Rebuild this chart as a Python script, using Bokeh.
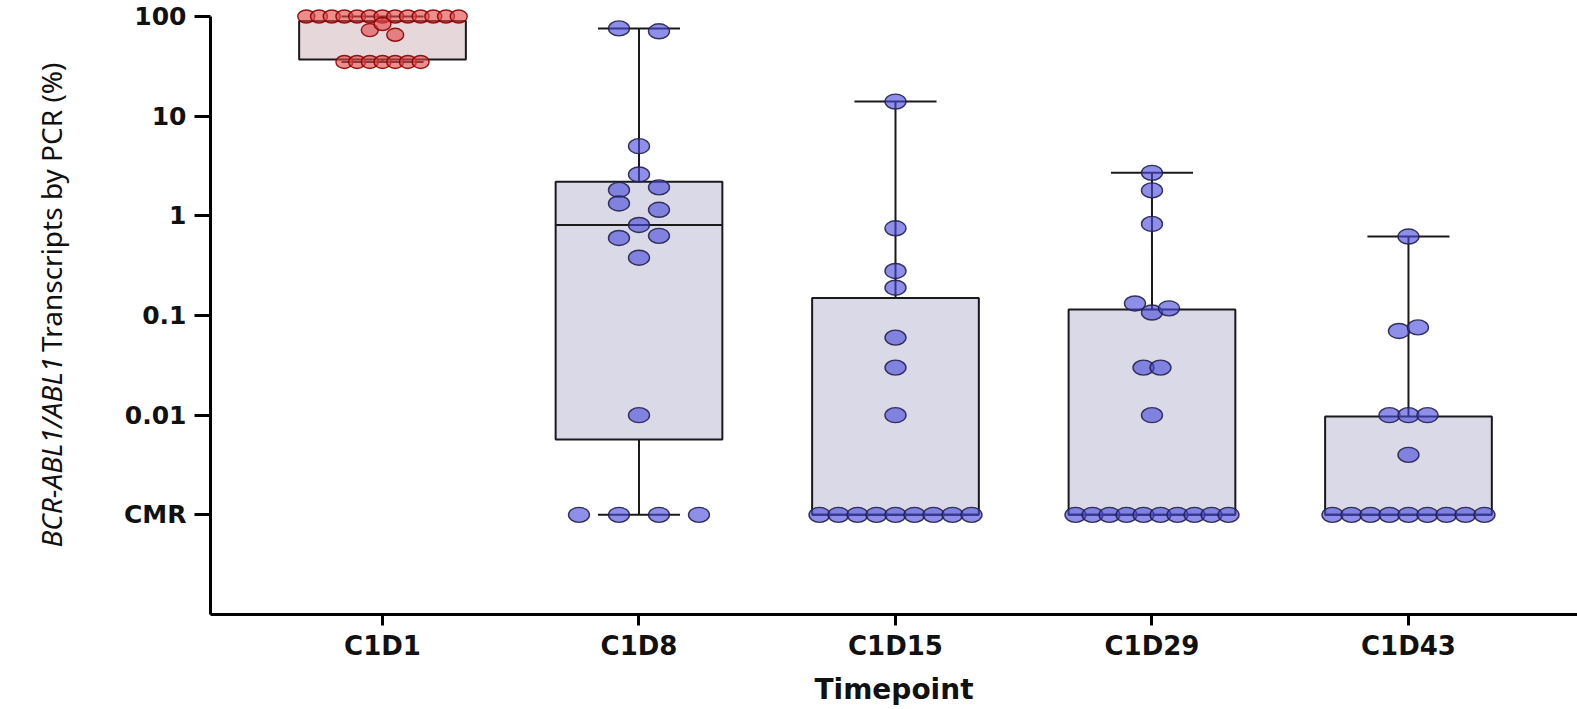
from math import log10, pi

from bokeh.core.properties import value
from bokeh.embed import file_html
from bokeh.layouts import row
from bokeh.models import ColumnDataSource, FixedTicker, Range1d
from bokeh.plotting import figure
from bokeh.resources import INLINE

# ---------------------------------------------------------------- data
CMR = 0.001  # complete molecular response, drawn on its own tick

timepoints = ["C1D1", "C1D8", "C1D15", "C1D29", "C1D43"]

c1d1_values = [100] * 13 + [73, 84, 65.5] + [35] * 7
c1d8_values = [76, 71, 5, 2.6, 1.82, 1.93, 1.33, 1.15, 0.81, 0.6, 0.63, 0.38, 0.01] + [CMR] * 4
c1d15_values = [14, 0.75, 0.28, 0.19, 0.06, 0.03, 0.01] + [CMR] * 9
c1d29_values = [2.7, 1.8, 0.83, 0.132, 0.107, 0.118, 0.03, 0.03, 0.01] + [CMR] * 10
c1d43_values = [0.62, 0.07, 0.076, 0.01, 0.01, 0.01, 0.004] + [CMR] * 9

# box-and-whisker summary for each timepoint
whisker_low = [35, CMR, CMR, CMR, CMR]
quartile_1 = [37, 0.0057, CMR, CMR, CMR]
median = [90, 0.81, CMR, CMR, CMR]
quartile_3 = [90, 2.2, 0.15, 0.115, 0.0097]
whisker_high = [100, 76, 14, 2.7, 0.62]

y_ticks = [CMR, 0.01, 0.1, 1, 10, 100]
y_tick_labels = ["CMR", "0.01", "0.1", "1", "10", "100"]

title_italic = "BCR-ABL1/ABL1"
title_plain = "Transcripts by PCR (%)"

# ---------------------------------------------------------------- geometry
W, H = 1577, 709
TITLE_W = 70                 # strip on the left that carries the y title
MAIN_W = W - TITLE_W
FRAME_LEFT, FRAME_BOTTOM = 210, 614
AXIS_TOP_PX = 16             # where the value axis ends (at 100)
HEADROOM_PX = 10             # room above the axis end so the top dots are not cut
FRAME_TOP = AXIS_TOP_PX - HEADROOM_PX
FRAME_W = W - FRAME_LEFT
X_LO, X_HI = -0.6706, 4.659
Y_LO, Y_AXIS_HI = 1e-4, 100
PX_PER_UNIT = FRAME_W / (X_HI - X_LO)
PX_PER_DECADE = (FRAME_BOTTOM - AXIS_TOP_PX) / (log10(Y_AXIS_HI) - log10(Y_LO))
Y_HI = Y_AXIS_HI * 10 ** (HEADROOM_PX / PX_PER_DECADE)

BOX_W = 0.65
CAP_W = 0.32


def swarm_offsets(vals, step_px, join_px):
    """Spread points that sit close together into centred horizontal rows."""
    order = sorted(range(len(vals)), key=lambda i: -vals[i])
    rows = []
    for i in order:
        if rows and (log10(vals[rows[-1][-1]]) - log10(vals[i])) * PX_PER_DECADE <= join_px:
            rows[-1].append(i)
        else:
            rows.append([i])
    offs = [0.0] * len(vals)
    for r in rows:
        r = sorted(r)
        n = len(r)
        for k, i in enumerate(r):
            offs[i] = (k - (n - 1) / 2) * step_px / PX_PER_UNIT
    return offs


groups = [c1d1_values, c1d8_values, c1d15_values, c1d29_values, c1d43_values]
steps = [12.7, 40, 19, 17, 19]
joins = [6.5, 10, 10, 10, 10]

# ---------------------------------------------------------------- main chart
p = figure(
    width=MAIN_W, height=H,
    x_range=Range1d(X_LO, X_HI), y_range=Range1d(Y_LO, Y_HI),
    y_axis_type="log",
    output_backend="svg", toolbar_location=None,
    min_border_left=FRAME_LEFT - TITLE_W, min_border_right=0,
    min_border_top=FRAME_TOP, min_border_bottom=H - FRAME_BOTTOM,
)
p.outline_line_color = None
p.grid.grid_line_color = None
p.background_fill_color = "white"
p.border_fill_color = "white"

xs = list(range(len(timepoints)))
box_fill = ["#E6D7DA", "#D9D9E8", "#D9D9E8", "#D9D9E8", "#D9D9E8"]

boxes = ColumnDataSource(dict(
    x=xs, q1=quartile_1, q3=quartile_3, med=median,
    lo=whisker_low, hi=whisker_high, fill=box_fill,
    x0=[x - BOX_W / 2 for x in xs], x1=[x + BOX_W / 2 for x in xs],
    c0=[x - CAP_W / 2 for x in xs], c1=[x + CAP_W / 2 for x in xs],
))

# whiskers and caps
p.segment(x0="x", y0="q3", x1="x", y1="hi", source=boxes, line_color="#1a1a1a", line_width=2)
p.segment(x0="x", y0="lo", x1="x", y1="q1", source=boxes, line_color="#1a1a1a", line_width=2)
p.segment(x0="c0", y0="hi", x1="c1", y1="hi", source=boxes, line_color="#1a1a1a", line_width=2)
p.segment(x0="c0", y0="lo", x1="c1", y1="lo", source=boxes, line_color="#1a1a1a", line_width=2)

# boxes and medians
p.vbar(x="x", width=BOX_W, bottom="q1", top="q3", source=boxes,
       fill_color="fill", line_color="#1a1a1a", line_width=2)
p.segment(x0="x0", y0="med", x1="x1", y1="med", source=boxes, line_color="#1a1a1a", line_width=2)

# individual patients
dx, dy, dw, dh, dfill, dline = [], [], [], [], [], []
for gi, vals in enumerate(groups):
    offs = swarm_offsets(vals, steps[gi], joins[gi])
    red = gi == 0
    for v, o in zip(vals, offs):
        dx.append(gi + o)
        dy.append(v)
        dw.append(17 if red else 21)
        dh.append(13 if red else 15)
        dfill.append("#E04848" if red else "#4B4BDC")
        dline.append("#8A0000" if red else "#22224A")

dots = ColumnDataSource(dict(x=dx, y=dy, w=dw, h=dh, fill=dfill, line=dline))
p.ellipse(x="x", y="y", width="w", height="h", width_units="screen", height_units="screen",
          source=dots, fill_color="fill", fill_alpha=0.62,
          line_color="line", line_alpha=0.9, line_width=1.4)

# ---------------------------------------------------------------- axes
for ax in (p.xaxis[0], p.yaxis[0]):
    ax.axis_line_width = 3
    ax.axis_line_color = "black"
    ax.major_tick_line_width = 3
    ax.major_tick_line_color = "black"
    ax.major_tick_in = 0
    ax.minor_tick_line_color = None
    ax.major_label_text_font = "DejaVu Sans"
    ax.major_label_text_font_style = "bold"
    ax.major_label_text_color = "#111111"

p.yaxis.ticker = FixedTicker(ticks=y_ticks)
p.yaxis.major_label_overrides = {t: s for t, s in zip(y_ticks, y_tick_labels)}
p.yaxis.bounds = (Y_LO, Y_AXIS_HI)
p.yaxis.major_tick_out = 16
p.yaxis.major_label_standoff = 8
p.yaxis.major_label_text_font_size = "25px"
p.yaxis.axis_label = None

p.xaxis.ticker = FixedTicker(ticks=xs)
p.xaxis.major_label_overrides = {x: t for x, t in zip(xs, timepoints)}
p.xaxis.major_tick_out = 11
p.xaxis.major_label_standoff = 5
p.xaxis.major_label_text_font_size = "26px"
p.xaxis.axis_label = "Timepoint"
p.xaxis.axis_label_text_font = "DejaVu Sans"
p.xaxis.axis_label_text_font_style = "bold"
p.xaxis.axis_label_text_font_size = "28px"
p.xaxis.axis_label_text_color = "#111111"
p.xaxis.axis_label_standoff = 9

# ---------------------------------------------------------------- y title strip
# the strip's frame lines up with the chart frame; its y data equals
# page pixels counted up from the bottom edge of the page
t = figure(
    width=TITLE_W, height=H,
    x_range=Range1d(0, TITLE_W), y_range=Range1d(H - FRAME_BOTTOM, H - FRAME_TOP),
    output_backend="svg", toolbar_location=None,
    min_border_left=0, min_border_right=0,
    min_border_top=FRAME_TOP, min_border_bottom=H - FRAME_BOTTOM,
    x_axis_location=None, y_axis_location=None,
)
t.outline_line_color = None
t.grid.grid_line_color = None
t.background_fill_color = "white"
t.border_fill_color = "white"

TITLE_BASELINE_X = 50
TITLE_START_Y = H - 547      # bottom end of the title
TITLE_END_Y = H - 62         # top end of the title
TITLE_SIZE = "28px"

t.text(x=[TITLE_BASELINE_X], y=[TITLE_START_Y], text=[title_italic], angle=pi / 2,
       text_align="left", text_baseline="alphabetic",
       text_font=value("Noto Sans"), text_font_style="italic", text_font_size=TITLE_SIZE,
       text_color="#111111")
t.text(x=[TITLE_BASELINE_X], y=[TITLE_END_Y], text=[title_plain], angle=pi / 2,
       text_align="right", text_baseline="alphabetic",
       text_font=value("Noto Sans"), text_font_size=TITLE_SIZE,
       text_color="#111111")

layout = row(t, p, spacing=0)
open("out.html", "w").write(file_html(layout, INLINE))
